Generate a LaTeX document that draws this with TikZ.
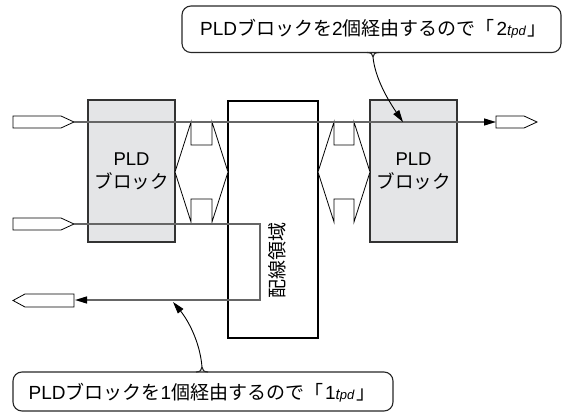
\documentclass[tikz,border=0pt]{standalone}
\usepackage{fontspec}
\setmainfont{Noto Sans CJK JP}
\newfontfamily\lat{Liberation Sans}
\usetikzlibrary{arrows.meta}
\definecolor{blkgray}{HTML}{E4E5E7}
\newcommand{\tpdmark}{{\lat\itshape\fontsize{15}{15}\selectfont t\fontsize{13}{13}\selectfont pd}}
\begin{document}
\begin{tikzpicture}[x=1pt,y=-1pt,
  block/.style={draw=black!80, line width=1.8pt, fill=blkgray, minimum width=87pt, minimum height=142pt, inner sep=0pt, align=center, font=\fontsize{18.5}{23}\selectfont},
  route/.style={draw=black, line width=1.8pt, fill=white, minimum width=90pt, minimum height=237pt, inner sep=0pt},
  sig/.style={draw=black!60, line width=1.3pt},
  pad/.style={draw=black, line width=0.8pt, fill=white},
  bus/.style={draw=black, line width=0.8pt, fill=white},
  callout/.style={draw=black!85, line width=1.1pt},
  lead/.style={draw=black, line width=0.9pt},
  tip/.style={-{Triangle[length=12pt,width=7pt,color=black]}},
  ctext/.style={inner sep=0pt, font=\fontsize{19}{19}\selectfont},
]
\useasboundingbox (0,0) rectangle (562,412);

% PLD blocks
\node[block] (pld1) at (131.5,171) {{\lat PLD}\\ブロック};
\node[block] (pld2) at (413.5,171) {{\lat PLD}\\ブロック};

% routing area
\node[route] (area) at (273,219.5) {};
\node[inner sep=0pt, rotate=90, font=\fontsize{19}{19}\selectfont] (areatext) at (277,260) {配線領域};

% bidirectional bus arrows
\draw[bus] (175,172) -- (191,122) -- (191,145) -- (212,145) -- (212,122) -- (228,172)
  -- (212,222) -- (212,199) -- (191,199) -- (191,222) -- cycle;
\draw[bus] (318,172) -- (334,122) -- (334,145) -- (354,145) -- (354,122) -- (370,172)
  -- (354,222) -- (354,199) -- (334,199) -- (334,222) -- cycle;

% I/O pads
\draw[pad] (13,116) -- (61,116) -- (74,122) -- (61,128) -- (13,128) -- cycle;
\draw[pad] (13,218) -- (61,218) -- (74,224) -- (61,230) -- (13,230) -- cycle;
\draw[pad] (496,116) -- (524,116) -- (537,122) -- (524,128) -- (496,128) -- cycle;
\draw[pad] (13,300.5) -- (25,294) -- (74,294) -- (74,307) -- (25,307) -- cycle;

\coordinate (in1) at (74,122);
\coordinate (out1) at (496,122);
\coordinate (in2) at (74,224);
\coordinate (turn1) at (260,224);
\coordinate (turn2) at (260,300);
\coordinate (out2) at (75,300);

% signal lines
\draw[sig, tip] (in1) -- (out1);
\draw[sig, tip] (in2) -- (turn1) -- (turn2) -- (out2);

% top callout
\draw[callout, rounded corners=9pt] (373,52.5) -- (561,52.5) -- (561,6) -- (182,6) -- (182,52.5) -- (373,52.5);
\draw[callout] (367,52.5) .. controls (371,52.5) and (373,54) .. (373,57);
\draw[callout] (379,52.5) .. controls (375,52.5) and (373,54) .. (373,57);
\coordinate (c1) at (373,57);
\coordinate (t1) at (403,122);
\draw[lead, tip] (c1) .. controls (375,78) and (388,100) .. (t1);
\node[ctext] (txt1) at (373.5,29) {{\lat PLD}ブロックを{\lat 2}個経由するので「\hspace{2pt}{\lat 2}\tpdmark\hspace{2pt}」};

% bottom callout
\draw[callout, rounded corners=9pt] (202,372) -- (393,372) -- (393,411) -- (13,411) -- (13,372) -- (202,372);
\draw[callout] (196,372) .. controls (200,372) and (202,370) .. (202,367);
\draw[callout] (208,372) .. controls (204,372) and (202,370) .. (202,367);
\coordinate (c2) at (202,367);
\coordinate (t2) at (173,302);
\draw[lead, tip] (c2) .. controls (200,342) and (188,320) .. (t2);
\node[ctext] (txt2) at (202,393) {{\lat PLD}ブロックを{\lat 1}個経由するので「\hspace{2pt}{\lat 1}\tpdmark\hspace{2pt}」};
\end{tikzpicture}
\end{document}
